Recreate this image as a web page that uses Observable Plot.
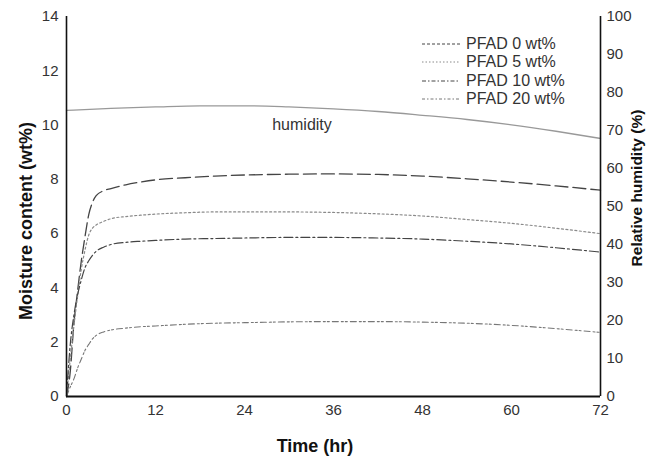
<!DOCTYPE html>
<html><head><meta charset="utf-8">
<script src="https://cdn.jsdelivr.net/npm/d3@7"></script>
<script src="https://cdn.jsdelivr.net/npm/@observablehq/plot@0.6"></script>
<style>
body{margin:0;background:#fff;font-family:"Liberation Sans",Arial,sans-serif;}
#wrap{position:relative;width:659px;height:460px;overflow:hidden;}
#legend{position:absolute;left:422px;top:34.5px;font-size:16px;color:#333;line-height:18.5px;}
#legend div{display:flex;align-items:center;height:18.5px;}
#legend svg{margin-right:6px;}
.lab{position:absolute;white-space:nowrap;color:#111;transform:translate(-50%,-50%);}
.rot{transform:translate(-50%,-50%) rotate(-90deg);}
</style></head>
<body><div id="wrap"><div id="chart"></div><div id="legend"></div>
<div class="lab" id="xlab" style="left:315px;top:446px;font-size:18px;font-weight:bold;"></div>
<div class="lab rot" id="ylab" style="left:26px;top:221px;font-size:18px;font-weight:bold;"></div>
<div class="lab rot" id="rlab" style="left:637px;top:188px;font-size:15.5px;font-weight:bold;"></div>
</div>
<script>
const time = [0, 0.5, 1, 1.5, 2, 2.5, 3, 3.5, 4, 5, 6, 8, 10, 12, 16, 20, 24, 30, 36, 42, 48, 54, 60, 66, 72];
const pfad0  = [0, 0.9, 2.7, 3.9, 5.0, 5.9, 6.7, 7.15, 7.4, 7.58, 7.66, 7.8, 7.9, 7.98, 8.06, 8.12, 8.16, 8.19, 8.2, 8.18, 8.12, 8.02, 7.9, 7.76, 7.6];
const pfad5  = [0, 1.35, 2.6, 3.7, 4.7, 5.4, 5.95, 6.2, 6.32, 6.45, 6.55, 6.63, 6.68, 6.72, 6.77, 6.8, 6.8, 6.8, 6.78, 6.73, 6.65, 6.52, 6.38, 6.2, 6.0];
const pfad10 = [0, 1.9, 3.0, 3.75, 4.3, 4.75, 5.0, 5.2, 5.35, 5.5, 5.6, 5.68, 5.72, 5.75, 5.8, 5.82, 5.84, 5.86, 5.86, 5.84, 5.8, 5.72, 5.62, 5.48, 5.32];
const pfad20 = [0, 0.35, 0.65, 1.05, 1.38, 1.7, 1.92, 2.12, 2.25, 2.38, 2.45, 2.52, 2.57, 2.6, 2.66, 2.7, 2.72, 2.75, 2.76, 2.76, 2.74, 2.7, 2.62, 2.5, 2.36];
const hTime = [0, 6, 12, 18, 24, 30, 36, 42, 48, 54, 60, 66, 72];
const humidity = [75.3, 75.8, 76.2, 76.5, 76.5, 76.2, 75.7, 75.0, 74.0, 72.9, 71.5, 69.8, 67.9];
const seriesNames = ["PFAD 0 wt%", "PFAD 5 wt%", "PFAD 10 wt%", "PFAD 20 wt%"];
const xTicks = [0, 12, 24, 36, 48, 60, 72];
const yTicks = [0, 2, 4, 6, 8, 10, 12, 14];
const rhTicks = [0, 10, 20, 30, 40, 50, 60, 70, 80, 90, 100];
const xTitle = "Time (hr)";
const yTitle = "Moisture content (wt%)";
const rTitle = "Relative humidity (%)";

const styles = [
  {stroke:"#444", dash:"13,5", w:1.3, leg:"3,2"},
  {stroke:"#8a8a8a", dash:"2,2.5", w:1.2, leg:"1.5,2"},
  {stroke:"#444", dash:"9,3,2,3", w:1.2, leg:"4,2,1.5,2"},
  {stroke:"#777", dash:"6,3,2,2,2,3", w:1.1, leg:"3,2,1.5,2"}
];
const allSeries = [pfad0, pfad5, pfad10, pfad20];
const rows = allSeries.map((s, i) => time.map((t, j) => ({t, v: s[j], name: seriesNames[i]})));
const hRows = hTime.map((t, i) => ({t, h: humidity[i]}));
const toY = h => h * 14 / 100;

const chart = Plot.plot({
  width: 659, height: 460,
  marginLeft: 66, marginRight: 59, marginTop: 16, marginBottom: 64,
  style: {fontFamily: '"Liberation Sans",Arial,sans-serif', color: "#333", background: "#fff"},
  x: {domain: [0, 72]},
  y: {domain: [0, 14]},
  marks: [
    Plot.axisX({ticks: xTicks, tickSize: 0, tickPadding: 8, label: null, fontSize: 15}),
    Plot.axisY({ticks: yTicks, tickSize: 0, tickPadding: 8, label: null, fontSize: 15}),
    Plot.axisY({anchor: "right", ticks: rhTicks.map(toY), tickFormat: d => Math.round(d * 100 / 14), tickSize: 0, tickPadding: 6, label: null, fontSize: 15}),
    Plot.line(hRows, {x: "t", y: d => toY(d.h), stroke: "#999", strokeWidth: 1.3, curve: "monotone-x"}),
    Plot.text(hRows.filter(d => d.t === 30), {x: "t", y: d => toY(d.h), text: () => "humidity", dx: 13, dy: 18, fontSize: 16, fill: "#333"}),
    ...rows.map((r, i) => Plot.line(r, {x: "t", y: "v", stroke: styles[i].stroke, strokeWidth: styles[i].w, strokeDasharray: styles[i].dash, curve: "monotone-x"})),
    Plot.ruleY([0], {stroke: "#111", strokeWidth: 2}),
    Plot.ruleX([0, 72], {stroke: "#111", strokeWidth: 1.6})
  ]
});
document.getElementById("chart").appendChild(chart);
document.getElementById("xlab").textContent = xTitle;
document.getElementById("ylab").textContent = yTitle;
document.getElementById("rlab").textContent = rTitle;

const leg = document.getElementById("legend");
seriesNames.forEach((n, i) => {
  const row = document.createElement("div");
  row.innerHTML = `<svg width="38" height="10"><line x1="0" y1="5" x2="38" y2="5" stroke="${styles[i].stroke}" stroke-width="1" stroke-dasharray="${styles[i].leg}"/></svg><span>${n}</span>`;
  leg.appendChild(row);
});
</script></body></html>
